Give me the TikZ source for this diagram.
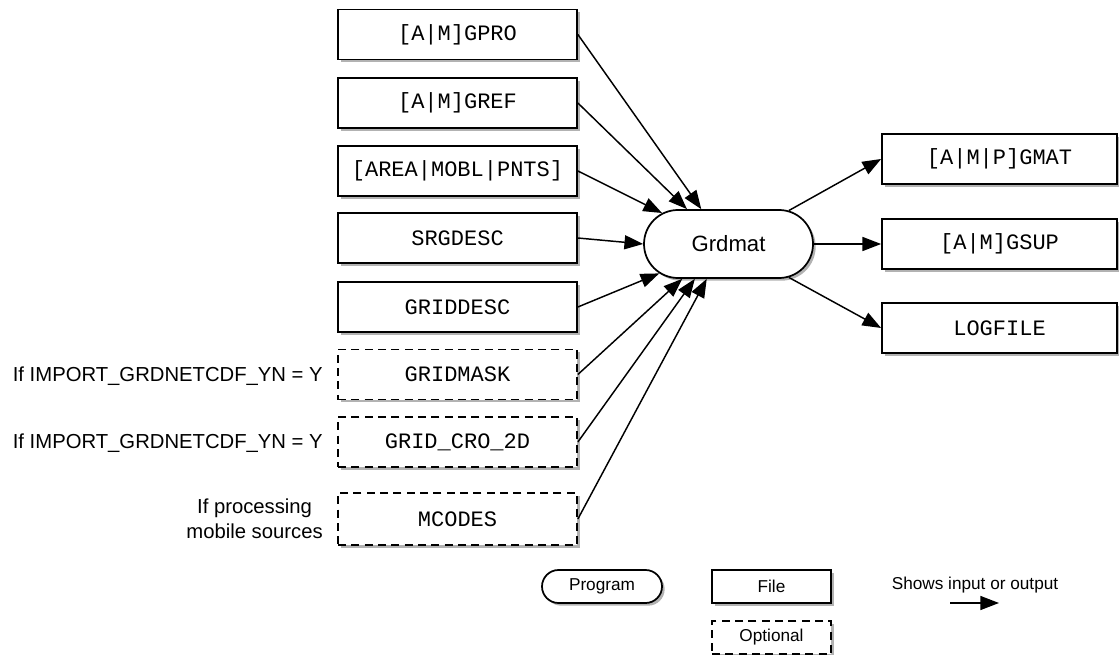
\documentclass[tikz,border=0pt]{standalone}
\usepackage{fontspec}
\setmainfont{Liberation Sans}
\newfontfamily\monofont{Liberation Mono}
\usetikzlibrary{arrows.meta,shapes.misc,shadows}
\begin{document}
\begin{tikzpicture}[x=0.75pt,y=-0.75pt,
  shadowed/.style={drop shadow={shadow xshift=2pt,shadow yshift=-2pt,fill=black,opacity=0.3}},
  filebox/.style={draw,line width=1.3pt,fill=white,minimum width=179.25pt,minimum height=37.5pt,inner sep=0pt,
    font={\monofont\fontsize{16.5pt}{19pt}\selectfont},shadowed},
  optbox/.style={filebox,dash pattern=on 6pt off 4pt},
  outbox/.style={filebox,minimum width=176.25pt},
  progbox/.style={rounded rectangle,draw,line width=1.3pt,fill=white,minimum width=126.75pt,minimum height=51pt,
    inner sep=0pt,font={\fontsize{16.6pt}{19pt}\selectfont},shadowed},
  sidelabel/.style={anchor=east,inner sep=0pt,align=center,font={\fontsize{15.2pt}{18.5pt}\selectfont}},
  legprog/.style={rounded rectangle,draw,line width=1.3pt,fill=white,minimum width=90pt,minimum height=24.75pt,
    inner sep=0pt,font={\fontsize{12.9pt}{15pt}\selectfont},shadowed},
  legfile/.style={draw,line width=1.3pt,fill=white,minimum width=89.25pt,minimum height=24.75pt,
    inner sep=0pt,font={\fontsize{12.9pt}{15pt}\selectfont},shadowed},
  legopt/.style={legfile,dash pattern=on 6pt off 4pt},
  legtext/.style={inner sep=0pt,font={\fontsize{12.9pt}{15pt}\selectfont}},
  arr/.style={line width=1.1pt,-{Triangle[length=14pt,width=10.5pt]}}
]
\useasboundingbox (0,0) rectangle (1119,655);

% inputs
\node[filebox] (in1) at (457.5,34.5) {[A|M]GPRO};
\node[filebox] (in2) at (457.5,103) {[A|M]GREF};
\node[filebox] (in3) at (457.5,171) {[AREA|MOBL|PNTS]};
\node[filebox] (in4) at (457.5,238) {SRGDESC};
\node[filebox] (in5) at (457.5,307) {GRIDDESC};
\node[optbox] (in6) at (457.5,374.5) {GRIDMASK};
\node[optbox] (in7) at (457.5,442) {GRID\_CRO\_2D};
\node[optbox,minimum height=39pt] (in8) at (457.5,519) {MCODES};

% side labels
\node[sidelabel] (l6) at (323,376) {If IMPORT\_GRDNETCDF\_YN = Y};
\node[sidelabel] (l7) at (323,443) {If IMPORT\_GRDNETCDF\_YN = Y};
\node[sidelabel] (l8) at (323,519) {If processing\\mobile sources};

% program
\node[progbox] (grd) at (728.5,244) {Grdmat};

% outputs
\node[outbox] (out1) at (999.5,159) {[A|M|P]GMAT};
\node[outbox] (out2) at (999.5,244) {[A|M]GSUP};
\node[outbox] (out3) at (999.5,328) {LOGFILE};

% input arrows
\draw[arr] (in1.east) -- (grd.128);
\draw[arr] (in2.east) -- (grd.140);
\draw[arr] (in3.east) -- (grd.155);
\draw[arr] (in4.east) -- (grd.west);
\draw[arr] (in5.east) -- (grd.203);
\draw[arr] (in6.east) -- (grd.217);
\draw[arr] (in7.east) -- (grd.226);
\draw[arr] (in8.east) -- (grd.238);

% output arrows
\draw[arr] (grd.29) -- (out1.west);
\draw[arr] (grd.east) -- (out2.west);
\draw[arr] (grd.-29) -- (out3.west);

% legend
\node[legprog] (lp) at (602,586.5) {Program};
\node[legfile] (lf) at (771.5,586.5) {File};
\node[legopt] (lo) at (771.5,637.5) {Optional};
\node[legtext] (lt) at (975,585) {Shows input or output};
\coordinate (la) at (950,603);
\coordinate (lb) at (999,603);
\draw[arr] (la) -- (lb);
\end{tikzpicture}
\end{document}
